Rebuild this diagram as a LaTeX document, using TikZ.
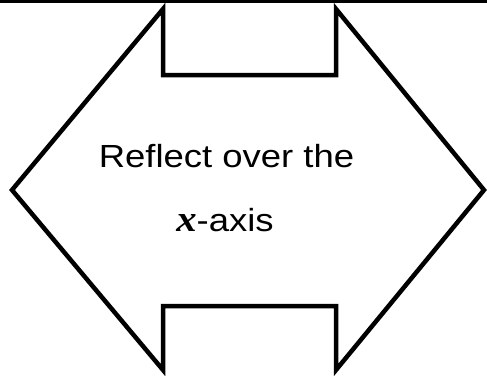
\documentclass[tikz,border=0pt]{standalone}
\usepackage{fontspec}
\setmainfont{Liberation Sans}
\newfontfamily\labelfont[FakeStretch=1.14]{Liberation Sans}
\newfontfamily\varfont[FakeStretch=1.1]{Liberation Serif}

\begin{document}
\begin{tikzpicture}[x=1pt, y=-1pt,
  outline/.style={draw, line width=4.5pt, line join=miter},
  toprule/.style={draw, line width=3pt},
  lbltext/.style={anchor=base, inner sep=0pt, font=\labelfont\fontsize{32}{38}\selectfont}
]
  \useasboundingbox (0,0) rectangle (487,375);
  \draw [toprule] (0,1.5) -- (487,1.5);
  \draw [outline] (12,190) -- (163,9) -- (163,75) -- (336,75) -- (336,9) -- (484,190)
    -- (336,370) -- (336,306) -- (163,306) -- (163,370) -- cycle;
  \node (line1) [lbltext] at (226.5,167) {Reflect over the};
  \node (line2) [lbltext] at (225,231) {{\varfont\fontsize{37}{40}\selectfont\bfseries\itshape x}-axis};
\end{tikzpicture}
\end{document}
